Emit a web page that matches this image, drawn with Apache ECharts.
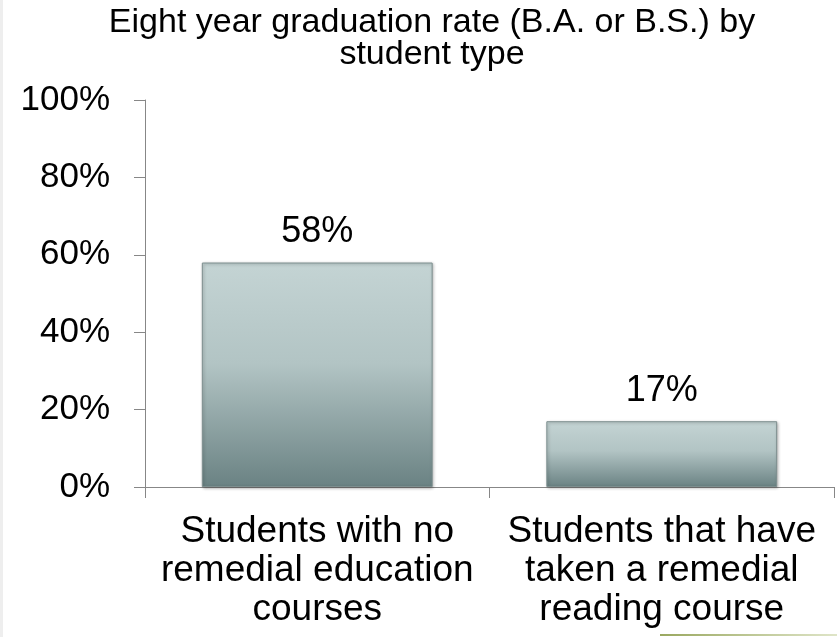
<!DOCTYPE html>
<html>
<head>
<meta charset="utf-8">
<script src="https://cdn.jsdelivr.net/npm/echarts@6/dist/echarts.min.js"></script>
<style>
  html, body { margin: 0; padding: 0; background: #fff; }
  #chart { width: 837px; height: 637px; }
</style>
</head>
<body>
<div id="chart"></div>
<script>
// chart data
const categories = [
  "Students with no\nremedial education\ncourses",
  "Students that have\ntaken a remedial\nreading course"
];
const gradRate = [58, 17];
const yTicks = [0, 20, 40, 60, 80, 100];
const titleText = "Eight year graduation rate (B.A. or B.S.) by\nstudent type";

const font = "Liberation Sans, Arial, sans-serif";
const chart = echarts.init(document.getElementById("chart"));

chart.setOption({
  backgroundColor: "#fff",
  animation: false,
  textStyle: { fontFamily: font },
  graphic: [
    {
      type: "text",
      x: 432,
      y: 7,
      style: {
        text: titleText,
        font: "34px " + font,
        fill: "#000",
        align: "center",
        verticalAlign: "top",
        lineHeight: 32
      }
    },
    // faint edge on the left side of the slide
    {
      type: "rect",
      shape: { x: 0, y: 0, width: 3, height: 637 },
      style: { fill: "#eeeeee" }
    },
    // little green rule at the bottom (slide artifact)
    {
      type: "rect",
      shape: { x: 660, y: 634, width: 177, height: 2 },
      style: {
        fill: new echarts.graphic.LinearGradient(0, 0, 1, 0, [
          { offset: 0, color: "#9aa860" },
          { offset: 1, color: "#dfe5c8" }
        ])
      }
    }
  ],
  grid: { left: 145, right: 3, top: 100, bottom: 150, containLabel: false },
  xAxis: {
    type: "category",
    data: categories,
    axisLine: { lineStyle: { color: "#878787", width: 1 } },
    axisTick: { show: true, length: 11, lineStyle: { color: "#878787" } },
    axisLabel: {
      interval: 0,
      color: "#000",
      fontSize: 37,
      lineHeight: 39,
      margin: 25,
      fontFamily: font
    }
  },
  yAxis: {
    type: "value",
    min: yTicks[0],
    max: yTicks[yTicks.length - 1],
    interval: 20,
    splitLine: { show: false },
    axisLine: { show: true, lineStyle: { color: "#878787", width: 1 } },
    axisTick: { show: true, length: 11, lineStyle: { color: "#878787" } },
    axisLabel: {
      color: "#000",
      fontSize: 35,
      margin: 35,
      fontFamily: font,
      formatter: "{value}%"
    }
  },
  series: [
    {
      type: "bar",
      data: gradRate,
      barWidth: "67%",
      itemStyle: {
        color: new echarts.graphic.LinearGradient(0, 0, 0, 1, [
          { offset: 0, color: "#c4d4d4" },
          { offset: 0.45, color: "#b2c4c4" },
          { offset: 1, color: "#6a8283" }
        ]),
        borderColor: "#7d8f8f",
        borderWidth: 1,
        shadowColor: "rgba(0,0,0,0.3)",
        shadowBlur: 3,
        shadowOffsetX: 1,
        shadowOffsetY: 1
      },
      label: {
        show: true,
        position: "top",
        distance: 12,
        color: "#000",
        fontSize: 36,
        fontFamily: font,
        formatter: "{c}%"
      }
    }
  ]
});
</script>
</body>
</html>
